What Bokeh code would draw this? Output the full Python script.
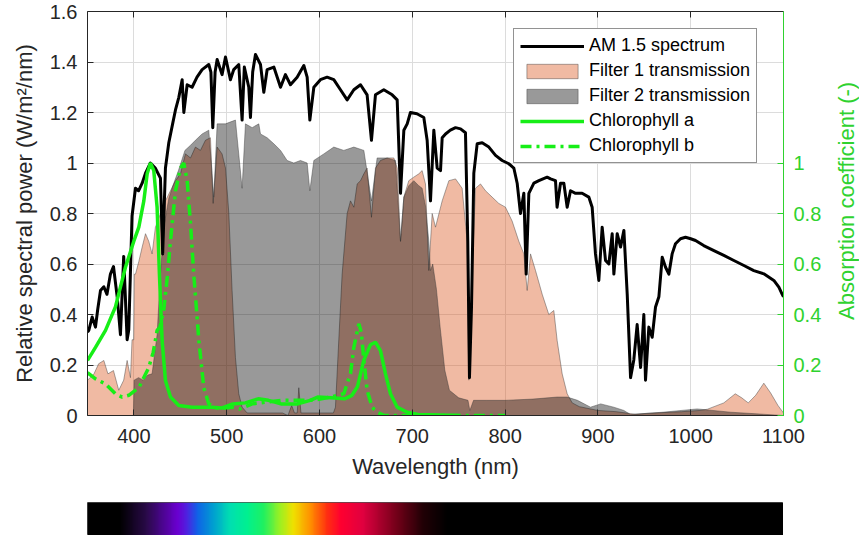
import math
import numpy as np
from bokeh.plotting import figure
from bokeh.models import Range1d, LinearAxis, FixedTicker, Legend, LegendItem, ColumnDataSource
from bokeh.core.properties import value
from bokeh.layouts import column, row
from bokeh.embed import file_html
from bokeh.resources import INLINE

# ---------------- data ----------------
am_wl = [350, 351.4, 355, 358.6, 361, 364, 367.6, 371, 374.7, 378, 382, 385.5, 389, 392.7, 394.5, 398,
         401.7, 405, 408.9, 412.5, 417.8, 423, 428.6, 431, 434, 437.6, 442, 444.8, 448.4, 452, 453.8,
         457.4, 462.7, 468, 473.5, 480.7, 483, 485, 487.5, 489.7, 495, 498.7, 504, 507.6, 513, 516.6,
         519, 523.8, 525.6, 528, 531, 536.4, 540, 543.6, 550.8, 558, 563.3, 568.7, 575.9, 583.1, 586.7,
         589.6, 593.9, 601, 608.2, 615.4, 622.6, 629.8, 637, 644.2, 651.3, 656, 660.3, 669.3, 678.3,
         683.7, 687.3, 690.9, 694.5, 698, 705, 712.4, 716, 719.6, 723.2, 726.8, 730.4, 732.2, 735.8,
         741, 746.6, 752, 757.3, 759.8, 761.6, 763.8, 766.3, 769.9, 775.3, 782.5, 789.7, 796.8, 804,
         809.4, 813, 816.6, 820.2, 822.7, 825.6, 831, 836.4, 845.3, 849, 854.3, 856, 859.7, 863.3,
         866.9, 870.5, 875.9, 883, 890.2, 893.8, 897.4, 901, 904.6, 908.2, 911.8, 915.4, 917.2, 920.8,
         924.4, 928, 931.6, 935.2, 938.7, 942.3, 946, 949.5, 951.3, 954.9, 958.5, 962.1, 965.7, 969.3,
         972.9, 976.5, 980, 983.6, 989, 994.4, 1000, 1005.2, 1014, 1025, 1035.7, 1046.5, 1057.3, 1068,
         1078.8, 1089.6, 1095, 1098.6, 1100]
am_val = [0.33, 0.337, 0.39, 0.35, 0.42, 0.495, 0.51, 0.48, 0.56, 0.59, 0.47, 0.32, 0.63, 0.30, 0.34, 0.79,
          0.90, 0.89, 0.92, 0.96, 1.0, 0.98, 0.94, 0.64, 0.98, 1.08, 1.16, 1.21, 1.26, 1.33, 1.20,
          1.31, 1.30, 1.34, 1.37, 1.39, 1.36, 1.14, 1.36, 1.41, 1.35, 1.42, 1.33, 1.37, 1.39, 1.17,
          1.38, 1.30, 1.18, 1.36, 1.43, 1.39, 1.28, 1.37, 1.38, 1.30, 1.35, 1.31, 1.34, 1.386, 1.34,
          1.17, 1.30, 1.33, 1.34, 1.33, 1.29, 1.25, 1.29, 1.31, 1.27, 1.09, 1.27, 1.29, 1.27,
          1.25, 0.88, 1.13, 1.155, 1.20, 1.195, 1.18, 1.09, 0.85, 1.13, 0.98, 0.97, 1.10, 1.115,
          1.13, 1.14, 1.135, 1.12, 0.69, 0.15, 0.43, 0.96, 1.076, 1.08, 1.063, 1.03, 1.01, 0.997,
          0.98, 0.92, 0.80, 0.88, 0.56, 0.88, 0.92, 0.93, 0.944, 0.937, 0.93, 0.825, 0.92, 0.92,
          0.825, 0.89, 0.88, 0.88, 0.865, 0.825, 0.64, 0.535, 0.746, 0.614, 0.60, 0.72, 0.56, 0.72,
          0.667, 0.733, 0.48, 0.15, 0.22, 0.36, 0.19, 0.40, 0.14, 0.35, 0.31, 0.43, 0.47, 0.627,
          0.587, 0.56, 0.64, 0.68, 0.70, 0.706, 0.70, 0.693, 0.673, 0.653, 0.634, 0.614, 0.594, 0.574,
          0.561, 0.535, 0.508, 0.48, 0.47]

f1_wl = [350, 353, 357, 362, 367.6, 372, 378, 383.7, 389, 392.7, 396.3, 398, 399.8, 400.5, 401.7, 405.3,
         408.9, 412.5, 416, 419.6, 423.2, 428.6, 431, 434, 439.4, 444.8, 450.2, 455.6, 461, 466.3,
         471.7, 477.1, 482.5, 485.4, 489.7, 495, 498.7, 502.3, 505.8, 509.4, 513, 516.6, 522, 560,
         566, 570, 573, 576, 577.7, 580, 615, 617.2, 620.8, 624.4, 629.8, 633.4, 637, 640.6, 644.2,
         647.8, 651.3, 656, 660.3, 665.7, 672.9, 680.1, 683.7, 687.3, 690.9, 696.2, 701.6, 707,
         710.6, 714.2, 717.8, 721.4, 725, 732.2, 739.4, 746.6, 753.7, 759.1, 760.9, 764.5, 768.1,
         773.5, 778.9, 786, 793.2, 800.4, 807.6, 814.8, 820.2, 823.8, 827.4, 832.8, 840, 847.1,
         852.5, 856.1, 861.5, 866.9, 872.3, 880, 900, 920, 940, 960, 990, 1010, 1018, 1035.7, 1048,
         1055, 1062, 1070, 1078.8, 1086, 1094, 1100]
f1_val = [0.14, 0.15, 0.165, 0.205, 0.218, 0.165, 0.178, 0.10, 0.14, 0.218, 0.15, 0.30, 0.30, 0.56, 0.56, 0.61,
          0.667, 0.72, 0.69, 0.64, 0.746, 0.80, 0.64, 0.85, 0.89, 0.93, 0.957, 1.036, 1.02, 1.063,
          1.05, 1.09, 1.10, 0.84, 1.063, 1.036, 0.98, 0.80, 0.495, 0.23, 0.086, 0.033, 0.01, 0.01,
          0.0, 0.04, 0.01, 0.01, 0.11, 0.01, 0.01, 0.033, 0.30, 0.56, 0.80, 0.85, 0.825, 0.917, 0.93,
          0.957, 0.98, 0.785, 0.98, 1.01, 1.02, 1.02, 0.98, 0.69, 0.865, 0.93, 0.944, 0.957,
          0.97, 0.917, 0.574, 0.80, 0.746, 0.85, 0.93, 0.937, 0.90, 0.69, 0.14, 0.56, 0.90,
          0.917, 0.89, 0.865, 0.84, 0.825, 0.77, 0.69, 0.64, 0.495, 0.64, 0.574, 0.48, 0.40,
          0.416, 0.297, 0.165, 0.086, 0.05, 0.035, 0.02, 0.015, 0.005, 0.01, 0.015, 0.02, 0.025, 0.05, 0.086,
          0.07, 0.05, 0.08, 0.128, 0.09, 0.04, 0.01]

f2_wl = [350, 399.5, 400.2, 405, 410, 415, 419.6, 425, 428.6, 432.2, 437.6, 442, 448, 455, 461, 466.3,
         473.5, 480.7, 486.1, 489.7, 498.7, 509.4, 516.6, 520.2, 527.4, 534.6, 536.4, 543.6, 550.8,
         558, 565.1, 572.3, 579.5, 586.7, 589.6, 593.9, 604.6, 615.4, 626.2, 637, 647.8, 656, 662.1,
         672.9, 681.9, 687.3, 690.9, 696.2, 701.6, 707, 710.6, 714.2, 717.8, 719.6, 722, 726, 730,
         735, 740, 750, 760, 762, 766, 780, 800, 830, 856, 867, 878, 892, 903, 917, 928, 935, 970,
         1007, 1043, 1100]
f2_val = [0.0, 0.0, 0.14, 0.15, 0.14, 0.16, 0.165, 0.32, 0.56, 0.746, 0.86, 0.91, 0.97, 1.05, 1.07, 1.09,
          1.115, 1.13, 0.865, 1.155, 1.155, 1.17, 0.90, 1.155, 1.14, 1.155, 1.115, 1.10, 1.076,
          1.05, 1.01, 1.0, 1.01, 1.0, 0.89, 1.01, 1.036, 1.063, 1.05, 1.063, 1.05, 0.85, 1.02,
          1.02, 1.01, 0.69, 0.865, 0.91, 0.93, 0.91, 0.90, 0.83, 0.69, 0.574, 0.60, 0.50, 0.35,
          0.18, 0.10, 0.07, 0.06, 0.02, 0.06, 0.06, 0.06, 0.065, 0.073, 0.073, 0.06, 0.033, 0.046, 0.033, 0.02, 0.004, 0.013,
          0.026, 0.013, 0.0]

chla_wl = [350, 358.6, 369.4, 380.1, 390.9, 399.9, 405.3, 410.7, 414.3, 417.8, 421.4, 425, 427.5, 430.4,
           434, 439.4, 448.4, 462.7, 484.3, 495, 506.7, 520, 533.9, 545, 558.5, 576.5, 590, 598, 612.5,
           627, 635, 641, 647.8, 654.9, 660.3, 665.7, 671.1, 676.5, 683.7, 694.4, 706, 750]
chla_val = [0.218, 0.27, 0.337, 0.43, 0.587, 0.69, 0.746, 0.85, 0.957, 1.0, 0.97, 0.825, 0.56, 0.297,
            0.139, 0.073, 0.04, 0.033, 0.033, 0.03, 0.046, 0.05, 0.066, 0.06, 0.046, 0.046, 0.06, 0.073, 0.07,
            0.066, 0.08, 0.115, 0.22, 0.28, 0.29, 0.257, 0.165, 0.086, 0.033, 0.013, 0.004, 0.0]

chlb_wl = [350, 358.6, 369.4, 380.1, 387.3, 394.5, 405.3, 416, 420.8, 425, 428, 432.2, 436, 439.4, 444.8,
           450.2, 453.8, 457.4, 461, 464.5, 470, 475.3, 480.7, 491.5, 505.8, 514, 527.4, 558.5, 594, 612,
           620, 626.2, 630, 633.4, 637, 642.4, 645, 647.8, 651.3, 656.7, 662, 670, 800]
chlb_val = [0.17, 0.145, 0.125, 0.086, 0.073, 0.08, 0.11, 0.19, 0.25, 0.337, 0.35, 0.42, 0.55, 0.69, 0.89,
            0.98, 1.0, 0.93, 0.76, 0.56, 0.297, 0.11, 0.046, 0.026, 0.033, 0.026, 0.046, 0.06, 0.06, 0.073,
            0.08, 0.086, 0.13, 0.165, 0.27, 0.363, 0.33, 0.22, 0.1, 0.033, 0.013, 0.0, 0.0]

x_ticks = [400, 500, 600, 700, 800, 900, 1000, 1100]
x_tick_labels = ["400", "500", "600", "700", "800", "900", "1000", "1100"]
y_ticks = [0, 0.2, 0.4, 0.6, 0.8, 1.0, 1.2, 1.4, 1.6]
y_tick_labels = ["0", "0.2", "0.4", "0.6", "0.8", "1", "1.2", "1.4", "1.6"]
abs_ticks = [0, 0.2, 0.4, 0.6, 0.8, 1.0]
abs_tick_labels = ["0", "0.2", "0.4", "0.6", "0.8", "1"]
right_title = "Absorption coefficient (-)"

spec_stop_wl = [350, 385, 414, 447, 457, 468, 486, 504, 522, 540, 558, 572, 590, 608, 623, 647, 684, 712, 738, 1100]
spec_stop_col = ["#000000", "#000000", "#2a0a4a", "#6a00d0", "#5020e0", "#1060e8", "#00a0d0", "#00e0b0",
                 "#00f090", "#20f060", "#a0f020", "#f0e000", "#ff9000", "#ff3010", "#ff0030", "#e00040",
                 "#700018", "#200005", "#000000", "#000000"]

# ---------------- styling ----------------
FONT = "Liberation Sans"
TXT = "#262626"
GREEN_LINE = "#17ee17"
GREEN_AXIS = "#2fd22f"

p = figure(frame_width=696, frame_height=404, min_border_left=87, min_border_right=50,
           min_border_top=11, min_border_bottom=75,
           x_range=Range1d(350, 1100), y_range=Range1d(0, 1.6),
           output_backend="svg", toolbar_location=None)
p.extra_y_ranges = {"abs": Range1d(0, 1.6)}
p.outline_line_color = None
p.background_fill_color = "white"

# filters
f1_src = ColumnDataSource(dict(x=[f1_wl[0]] + f1_wl + [f1_wl[-1]], y=[0] + f1_val + [0]))
f2_src = ColumnDataSource(dict(x=[f2_wl[0]] + f2_wl + [f2_wl[-1]], y=[0] + f2_val + [0]))
r_f1 = p.patch("x", "y", source=f1_src, fill_color="#D95319", fill_alpha=0.4,
               line_color="#3a3a3a", line_alpha=0.55, line_width=0.8)
r_f2 = p.patch("x", "y", source=f2_src, fill_color="#000000", fill_alpha=0.4,
               line_color="#3a3a3a", line_alpha=0.55, line_width=0.8)

r_am = p.line(am_wl, am_val, line_color="black", line_width=3.0, line_join="round")
r_ca = p.line(chla_wl, chla_val, line_color=GREEN_LINE, line_width=3.5, y_range_name="abs")
r_cb = p.line(chlb_wl, chlb_val, line_color=GREEN_LINE, line_width=3.5, line_dash="11 5 3 5",
              y_range_name="abs")

# grid
p.xgrid.ticker = FixedTicker(ticks=x_ticks)
p.ygrid.ticker = FixedTicker(ticks=y_ticks)
p.grid.grid_line_color = "#dcdcdc"
p.grid.grid_line_width = 1

def style_axis(ax, color):
    ax.axis_line_color = color
    ax.major_tick_line_color = color
    ax.major_tick_in = 6
    ax.major_tick_out = 0
    ax.minor_tick_line_color = None
    ax.major_label_text_color = color
    ax.major_label_text_font = FONT
    ax.major_label_text_font_size = "20px"
    ax.axis_label_text_font = FONT
    ax.axis_label_text_font_size = "22px"
    ax.axis_label_text_font_style = "normal"
    ax.axis_label_text_color = color

xa = p.xaxis[0]
style_axis(xa, TXT)
xa.ticker = FixedTicker(ticks=x_ticks)
xa.major_label_overrides = dict(zip(x_ticks, x_tick_labels))
xa.axis_label = "Wavelength (nm)"
xa.major_label_standoff = 13
xa.axis_label_standoff = 8

ya = p.yaxis[0]
style_axis(ya, TXT)
ya.ticker = FixedTicker(ticks=y_ticks)
ya.major_label_overrides = dict(zip(y_ticks, y_tick_labels))
ya.axis_label = "Relative spectral power (W/m²/nm)"
ya.major_label_standoff = 10
ya.axis_label_standoff = 10

# top border with inward ticks (no labels)
top = LinearAxis(ticker=FixedTicker(ticks=x_ticks))
style_axis(top, TXT)
top.major_label_text_font_size = "1px"
top.major_label_text_alpha = 0
top.major_label_standoff = 0
p.add_layout(top, "above")

ra = LinearAxis(y_range_name="abs", ticker=FixedTicker(ticks=abs_ticks))
style_axis(ra, GREEN_AXIS)
ra.major_label_overrides = dict(zip(abs_ticks, abs_tick_labels))
ra.major_label_standoff = 10
p.add_layout(ra, "right")

legend = Legend(items=[
    LegendItem(label="AM 1.5 spectrum", renderers=[r_am]),
    LegendItem(label="Filter 1 transmission", renderers=[r_f1]),
    LegendItem(label="Filter 2 transmission", renderers=[r_f2]),
    LegendItem(label="Chlorophyll a", renderers=[r_ca]),
    LegendItem(label="Chlorophyll b", renderers=[r_cb]),
], location=(426, 252))
legend.label_text_font = FONT
legend.label_text_font_size = "18px"
legend.label_text_color = "#000000"
legend.glyph_width = 64
legend.glyph_height = 18
legend.label_height = 18
legend.spacing = 4
legend.padding = 6
legend.margin = 0
legend.label_standoff = 5
legend.border_line_color = TXT
legend.border_line_width = 1
legend.background_fill_color = "white"
legend.background_fill_alpha = 1.0
p.add_layout(legend)

# ---------------- right-hand title strip (text reads bottom-to-top) ----------------
side = figure(frame_width=26, frame_height=404, min_border_left=0, min_border_right=0,
              min_border_top=11, min_border_bottom=75,
              x_range=Range1d(0, 1), y_range=Range1d(0, 1.6),
              output_backend="svg", toolbar_location=None)
side.axis.visible = False
side.grid.visible = False
side.outline_line_color = None
side.text(x=[0.5], y=[0.85], text=[right_title], angle=math.pi / 2,
          text_align="center", text_baseline="middle",
          text_font=value(FONT), text_font_size="22px", text_color=GREEN_AXIS)

# ---------------- spectrum colour bar ----------------
def hex_to_rgb(h):
    return [int(h[i:i + 2], 16) for i in (1, 3, 5)]

stops_rgb = np.array([hex_to_rgb(c) for c in spec_stop_col], dtype=float)
n_px = 750
centers = 350 + (np.arange(n_px) + 0.5) * (750.0 / n_px)
img = np.zeros((1, n_px), dtype=np.uint32)
view = img.view(dtype=np.uint8).reshape((1, n_px, 4))
for k in range(3):
    view[0, :, k] = np.round(np.interp(centers, spec_stop_wl, stops_rgb[:, k])).astype(np.uint8)
view[0, :, 3] = 255

cb = figure(frame_width=696, frame_height=33, min_border_left=87, min_border_right=0,
            min_border_top=12, min_border_bottom=0,
            x_range=Range1d(350, 1100), y_range=Range1d(0, 1),
            output_backend="svg", toolbar_location=None)
cb.image_rgba(image=[img], x=350, y=0, dw=750, dh=1)
cb.axis.visible = False
cb.grid.visible = False
cb.outline_line_color = "#505050"

layout = column(row(p, side), cb)
open("out.html", "w").write(file_html(layout, INLINE))
